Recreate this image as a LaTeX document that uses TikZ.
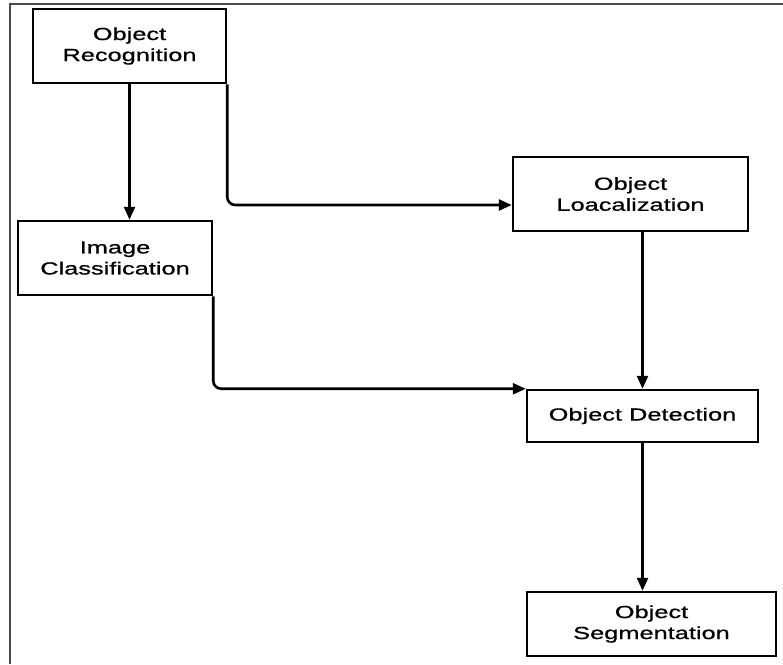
\documentclass[tikz,border=0pt]{standalone}
\usepackage{fontspec}
\setmainfont{Liberation Sans}[FakeStretch=1.45, FakeBold=0.8]
\usetikzlibrary{arrows.meta}

\begin{document}
\begin{tikzpicture}[
    x=1pt, y=-1pt,
    box/.style={draw, line width=2.5pt, inner sep=0pt, align=center, font=\fontsize{17.5}{21}\selectfont},
    arr/.style={draw, line width=2.6pt, rounded corners=8pt, -{Triangle[length=13pt, width=11pt]}}
    ]
    \useasboundingbox (0, 0) rectangle (783, 664);

    % frame
    \draw[gray!60!black, line width=1.5pt] (10, 664) -- (10, 4) -- (783, 4);

    \node[box, minimum width=193pt, minimum height=74pt] (rec) at (129.5, 46) {Object\\Recognition};
    \node[box, minimum width=194pt, minimum height=74pt] (cls) at (115, 258) {Image\\Classification};
    \node[box, minimum width=235pt, minimum height=74pt] (loc) at (630.5, 194) {Object\\Loacalization};
    \node[box, minimum width=231pt, minimum height=52pt] (det) at (642.5, 416) {Object Detection};
    \node[box, minimum width=249pt, minimum height=64pt] (seg) at (651.5, 624) {Object\\Segmentation};

    \path[arr] (rec.south) -- (rec.south |- cls.north);
    \path[arr] (rec.south east) |- ([yshift=-11pt]loc.west);
    \path[arr] (cls.south east) |- (det.north west);
    \path[arr] (det.north |- loc.south) -- (det.north);
    \path[arr] (det.south) -- (det.south |- seg.north);

\end{tikzpicture}
\end{document}
